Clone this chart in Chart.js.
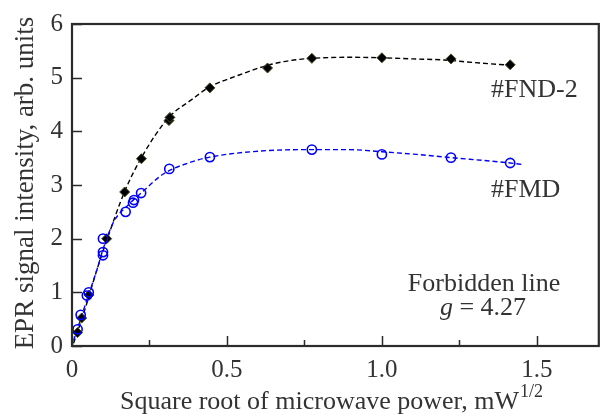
<!DOCTYPE html>
<html>
<head>
<meta charset="utf-8">
<script src="https://cdn.jsdelivr.net/npm/chart.js@4.4.0/dist/chart.umd.min.js"></script>
<style>
    html, body { margin: 0; padding: 0; background: #fff; }
    #wrap { width: 605px; height: 417px; position: relative; }
    .fontwarm { position: absolute; left: -9999px; top: 0; font-family: 'Liberation Serif'; font-size: 26px; }
</style>
</head>
<body>
<span class="fontwarm">Forbidden <i>g</i> 0.5</span>
<div id="wrap"><canvas id="eprChart" width="605" height="417"></canvas></div>
<script>
// =====================================================================
// DATA
// =====================================================================

// #FND-2 - titik ukur (belah ketupat hitam)
const fnd2X = [0.018, 0.031, 0.055, 0.112, 0.17, 0.224, 0.313, 0.316, 0.445, 0.631, 0.774, 1.0, 1.223, 1.414];
const fnd2Y = [0.25, 0.52, 0.95, 2.0, 2.87, 3.49, 4.20, 4.26, 4.81, 5.18, 5.36, 5.37, 5.35, 5.24];

// #FMD - titik ukur (lingkaran biru)
const fmdX = [0.018, 0.028, 0.048, 0.054, 0.1, 0.1, 0.1, 0.173, 0.197, 0.2, 0.223, 0.314, 0.445, 0.774, 1.0, 1.223, 1.414];
const fmdY = [0.31, 0.58, 0.94, 1.0, 1.69, 1.75, 2.0, 2.5, 2.67, 2.72, 2.85, 3.30, 3.52, 3.66, 3.57, 3.51, 3.41];

// Kurva putus-putus (fit), titik dibaca sepanjang garis
const fnd2FitX = [0.005, 0.04, 0.082, 0.114, 0.17, 0.225, 0.311, 0.386, 0.445, 0.535, 0.631, 0.705, 0.774, 0.9, 1.0, 1.1, 1.2, 1.3, 1.42];
const fnd2FitY = [0.05, 0.65, 1.45, 2.0, 2.88, 3.52, 4.25, 4.59, 4.83, 5.04, 5.23, 5.32, 5.36, 5.38, 5.37, 5.35, 5.33, 5.28, 5.23];
const fmdFitX = [0.005, 0.04, 0.082, 0.1, 0.135, 0.18, 0.223, 0.296, 0.386, 0.445, 0.6, 0.774, 0.888, 1.0, 1.111, 1.223, 1.414, 1.455];
const fmdFitY = [0.1, 0.72, 1.45, 1.8, 2.32, 2.62, 2.85, 3.21, 3.43, 3.52, 3.63, 3.66, 3.66, 3.62, 3.57, 3.51, 3.41, 3.38];

// Tick
const xMajorTicks = [0, 0.5, 1.0, 1.5];
const xMinorTicks = [0.25, 0.75, 1.25];
const yTicks = [0, 1, 2, 3, 4, 5, 6];

const xTitle = 'Square root of microwave power, mW';
const xTitleSup = '1/2';
const yTitle = 'EPR signal intensity, arb. units';

// =====================================================================
// HELPER
// =====================================================================

const toPoints = (xs, ys) => xs.map((x, i) => ({ x, y: ys[i] }));

const SERIF = "'Liberation Serif'";
const TEXT = '#333';
const AXIS = '#2b2b2b';

// Bingkai, tick ke dalam, judul sumbu dan anotasi
const framePlugin = {
    id: 'frame',
    afterDraw(chart) {
        const { ctx, chartArea: a, scales } = chart;
        const xs = scales.x, ys = scales.y;
        ctx.save();

        // tick ke dalam
        ctx.strokeStyle = AXIS;
        ctx.lineWidth = 1.5;
        ctx.beginPath();
        xMajorTicks.forEach(v => {
            const px = Math.round(xs.getPixelForValue(v)) + 0.5;
            ctx.moveTo(px, a.bottom); ctx.lineTo(px, a.bottom - 10);
        });
        xMinorTicks.forEach(v => {
            const px = Math.round(xs.getPixelForValue(v)) + 0.5;
            ctx.moveTo(px, a.bottom); ctx.lineTo(px, a.bottom - 6);
        });
        yTicks.forEach(v => {
            const py = Math.round(ys.getPixelForValue(v)) + 0.5;
            ctx.moveTo(a.left, py); ctx.lineTo(a.left + 10, py);
        });
        ctx.stroke();

        // bingkai
        ctx.lineWidth = 2.2;
        ctx.strokeRect(a.left, a.top, a.right - a.left, a.bottom - a.top);

        ctx.fillStyle = TEXT;

        // judul sumbu X + pangkat
        ctx.font = '26px ' + SERIF;
        ctx.textAlign = 'left';
        ctx.textBaseline = 'alphabetic';
        ctx.fillText(xTitle, 120, 409);
        const w = ctx.measureText(xTitle).width;
        ctx.font = '18px ' + SERIF;
        ctx.fillText(xTitleSup, 120 + w + 1, 397);

        // judul sumbu Y (diputar)
        ctx.save();
        ctx.translate(33, 183);
        ctx.rotate(-Math.PI / 2);
        ctx.font = '27px ' + SERIF;
        ctx.textAlign = 'center';
        ctx.fillText(yTitle, 0, 0);
        ctx.restore();

        // label seri
        ctx.font = '26px ' + SERIF;
        ctx.textAlign = 'left';
        ctx.fillText('#FND-2', 491, 97);
        ctx.fillText('#FMD', 491, 197);

        // anotasi
        ctx.textAlign = 'center';
        ctx.fillText('Forbidden line', 484, 291);
        const rest = ' = 4.27';
        ctx.font = 'italic 26px ' + SERIF;
        const gw = ctx.measureText('g').width;
        ctx.font = '26px ' + SERIF;
        const rw = ctx.measureText(rest).width;
        const x0 = 483 - (gw + rw) / 2;
        ctx.textAlign = 'left';
        ctx.font = 'italic 26px ' + SERIF;
        ctx.fillText('g', x0, 315);
        ctx.font = '26px ' + SERIF;
        ctx.fillText(rest, x0 + gw, 315);

        ctx.restore();
    }
};

// =====================================================================
// CHART
// =====================================================================

function renderChart() {
    new Chart(document.getElementById('eprChart'), {
        type: 'scatter',
        data: {
            datasets: [
                {
                    label: '#FMD',
                    data: toPoints(fmdX, fmdY),
                    pointStyle: 'circle',
                    pointRadius: 4.6,
                    backgroundColor: 'rgba(0,0,0,0)',
                    borderColor: '#0000ff',
                    borderWidth: 1.6,
                },
                {
                    label: '#FND-2',
                    data: toPoints(fnd2X, fnd2Y),
                    pointStyle: 'rectRot',
                    pointRadius: 5,
                    backgroundColor: '#000',
                    borderColor: '#4a4a22',
                    borderWidth: 1,
                },
                {
                    label: '#FMD fit',
                    data: toPoints(fmdFitX, fmdFitY),
                    showLine: true,
                    pointRadius: 0,
                    borderColor: '#0000ff',
                    borderWidth: 1.4,
                    borderDash: [5, 3],
                    cubicInterpolationMode: 'monotone',
                },
                {
                    label: '#FND-2 fit',
                    data: toPoints(fnd2FitX, fnd2FitY),
                    showLine: true,
                    pointRadius: 0,
                    borderColor: '#000',
                    borderWidth: 1.4,
                    borderDash: [5, 3],
                    cubicInterpolationMode: 'monotone',
                },
            ],
        },
        options: {
            responsive: false,
            animation: false,
            devicePixelRatio: 1,
            layout: { padding: { top: 17, right: 2, left: 0, bottom: 0 } },
            plugins: {
                legend: { display: false },
                tooltip: { enabled: false },
            },
            scales: {
                x: {
                    type: 'linear',
                    min: 0,
                    max: 1.7,
                    grid: { display: false, drawTicks: false },
                    border: { display: false },
                    afterBuildTicks: s => { s.ticks = xMajorTicks.map(v => ({ value: v })); },
                    afterFit: s => { s.height = 71; },
                    ticks: {
                        padding: 9,
                        color: TEXT,
                        font: { family: SERIF, size: 25 },
                        callback: v => (v === 0 ? '0' : v.toFixed(1)),
                    },
                },
                y: {
                    type: 'linear',
                    min: 0,
                    max: 6,
                    grid: { display: false, drawTicks: false },
                    border: { display: false },
                    afterBuildTicks: s => { s.ticks = yTicks.map(v => ({ value: v })); },
                    afterFit: s => { s.width = 72; },
                    ticks: {
                        padding: 9,
                        color: TEXT,
                        font: { family: SERIF, size: 25 },
                        callback: v => String(v),
                    },
                },
            },
        },
        plugins: [framePlugin],
    });
}

// tunggu font serif siap sebelum menggambar
Promise.all([
    document.fonts.load("26px 'Liberation Serif'"),
    document.fonts.load("italic 26px 'Liberation Serif'"),
]).catch(() => {}).then(renderChart);
</script>
</body>
</html>
